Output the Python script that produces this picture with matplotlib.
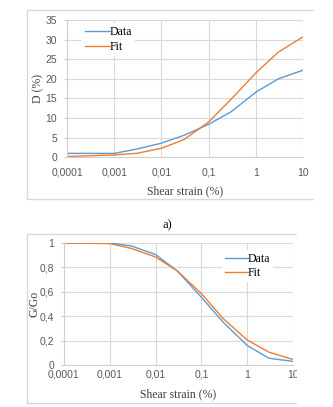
import numpy as np
import matplotlib
matplotlib.use("Agg")
import matplotlib.pyplot as plt
from matplotlib.lines import Line2D
from matplotlib.patches import Rectangle

# shear strain (%) at which both curves are given
strain = [0.0001, 0.001, 0.003, 0.01, 0.03, 0.1, 0.3, 1, 3, 10]

# damping ratio D (%)
damp_data = [1.0, 1.0, 2.1, 3.6, 5.6, 8.4, 11.6, 16.6, 20.0, 22.2]
damp_fit = [0.2, 0.6, 1.0, 2.3, 4.5, 9.0, 14.8, 21.5, 26.8, 30.7]

# modulus reduction G/Go
mod_data = [1.0, 1.0, 0.975, 0.905, 0.77, 0.555, 0.35, 0.16, 0.055, 0.03]
mod_fit = [1.0, 0.995, 0.955, 0.885, 0.77, 0.585, 0.38, 0.205, 0.105, 0.045]

xticks = [0.0001, 0.001, 0.01, 0.1, 1, 10]
xticklabels = ["0,0001", "0,001", "0,01", "0,1", "1", "10"]
d_ticks = [0, 5, 10, 15, 20, 25, 30, 35]
g_ticks = [0, 0.2, 0.4, 0.6, 0.8, 1.0]
g_ticklabels = ["0", "0,2", "0,4", "0,6", "0,8", "1"]

BLUE = "#5B9BD5"
ORANGE = "#ED7D31"
GRID = "#D9D9D9"
TICK = "#595959"
SERIF = "Liberation Serif"
SANS = "Liberation Sans"

W, H = 333, 407
fig = plt.figure(figsize=(W / 100, H / 100), dpi=100)


def px_axes(left, top, right, bottom):
    return fig.add_axes([left / W, 1 - bottom / H, (right - left) / W, (bottom - top) / H])


def style(ax, xpad, ypad):
    ax.set_xscale("log")
    ax.set_xlim(1e-4, 10)
    ax.set_xticks(xticks)
    ax.set_xticklabels(xticklabels)
    ax.minorticks_off()
    ax.grid(True, color=GRID, lw=0.8)
    ax.set_axisbelow(True)
    for s in ["top", "right"]:
        ax.spines[s].set_visible(False)
    for s in ["left", "bottom"]:
        ax.spines[s].set_color("#CFCFCF")
        ax.spines[s].set_linewidth(0.8)
    ax.tick_params(axis="x", length=0, pad=xpad, labelsize=7.5, labelcolor=TICK)
    ax.tick_params(axis="y", length=2.5, width=0.8, color="#CFCFCF", pad=ypad,
                   labelsize=7.5, labelcolor=TICK)
    for lab in ax.get_xticklabels() + ax.get_yticklabels():
        lab.set_fontfamily(SANS)


def frame(left, top, right, bottom):
    xs = np.array([right, left, left, right]) / W
    ys = 1 - np.array([top, top, bottom, bottom]) / H
    fig.add_artist(Line2D(xs, ys, color="#D9D9D9", lw=1.0, transform=fig.transFigure))


# ---- damping ratio chart ----
frame(27, 10, 313, 199)
ax1 = px_axes(67, 20, 303, 157.3)
ax1.plot(strain, damp_data, color=BLUE, lw=1.0, label="Data")
ax1.plot(strain, damp_fit, color=ORANGE, lw=1.0, label="Fit")
ax1.set_ylim(0, 35)
ax1.set_yticks(d_ticks)
style(ax1, xpad=7.5, ypad=4.5)
ax1.set_xlabel("Shear strain (%)", family=SERIF, fontsize=8.5, color="#404040")
ax1.xaxis.set_label_coords(0.5, -0.249)
ax1.xaxis.label.set_va("center")
ax1.set_ylabel("D (%)", family=SERIF, fontsize=8.5, color="#404040")
ax1.yaxis.set_label_coords(-0.122, 0.5)
ax1.yaxis.label.set_va("center")
leg1 = ax1.legend(loc="upper left", bbox_to_anchor=(0.064, 0.975), borderaxespad=0,
                  borderpad=0.25, handlelength=2.1, handletextpad=0, labelspacing=0.2,
                  frameon=True, fancybox=False, edgecolor="none", framealpha=1,
                  prop={"family": SERIF, "size": 8.5})

fig.text(167 / W, 1 - 225 / H, "a)", family=SERIF, fontsize=9, ha="center", va="center")

# ---- modulus reduction chart ----
frame(27, 234, 297, 403)
ax2 = px_axes(64, 243, 293, 365)
ax2.plot(strain, mod_data, color=BLUE, lw=1.0, label="Data")
ax2.plot(strain, mod_fit, color=ORANGE, lw=1.0, label="Fit")
ax2.set_ylim(0, 1)
ax2.set_yticks(g_ticks)
ax2.set_yticklabels(g_ticklabels)
style(ax2, xpad=3.5, ypad=4.5)
ax2.set_xlabel("Shear strain (%)", family=SERIF, fontsize=8.5, color="#404040")
ax2.xaxis.set_label_coords(0.5, -0.24)
ax2.xaxis.label.set_va("center")
ax2.set_ylabel("G/Go", family=SERIF, fontsize=8.5, color="#404040")
ax2.yaxis.set_label_coords(-0.127, 0.5)
ax2.yaxis.label.set_va("center")
leg2 = ax2.legend(loc="upper left", bbox_to_anchor=(0.691, 0.945), borderaxespad=0,
                  borderpad=0.25, handlelength=1.9, handletextpad=0, labelspacing=0.2,
                  frameon=True, fancybox=False, edgecolor="none", framealpha=1,
                  prop={"family": SERIF, "size": 8.5})

# the screenshot cuts the lower chart off on the right
fig.add_artist(Rectangle((296.5 / W, 0), 1 - 296.5 / W, 1 - 228 / H, color="white",
                         transform=fig.transFigure, zorder=10))

fig.savefig("out.png", dpi=100)
